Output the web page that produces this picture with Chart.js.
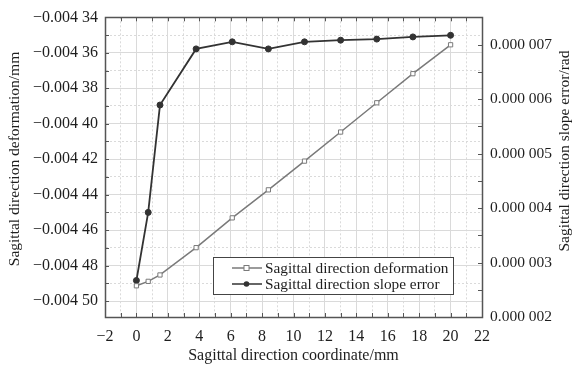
<!DOCTYPE html>
<html>
<head>
<meta charset="utf-8">
<script src="https://cdn.jsdelivr.net/npm/chart.js@4"></script>
<style>
    html, body { margin: 0; padding: 0; background: #fff; }
    #wrap { width: 577px; height: 367px; }
</style>
</head>
<body>
<div id="wrap"><canvas id="chart"></canvas></div>
<script>
// data
const coordinates = [0, 0.75, 1.5, 3.8, 6.1, 8.4, 10.7, 13.0, 15.3, 17.6, 20];
const deformation = [-0.0044914, -0.0044889, -0.0044853, -0.0044699, -0.0044531, -0.0044373,
    -0.0044211, -0.0044047, -0.0043882, -0.0043718, -0.0043555];
const slopeError = [0.00000267, 0.00000392, 0.00000589, 0.00000692, 0.00000705, 0.00000692,
    0.00000705, 0.00000708, 0.0000071, 0.00000714, 0.00000717];

const xTicks = [-2, 0, 2, 4, 6, 8, 10, 12, 14, 16, 18, 20, 22];
const leftTicks = [-0.00434, -0.00436, -0.00438, -0.0044, -0.00442, -0.00444, -0.00446, -0.00448, -0.0045];
const rightTicks = [0.000002, 0.000003, 0.000004, 0.000005, 0.000006, 0.000007];

const seriesNames = ["Sagittal direction deformation", "Sagittal direction slope error"];
const leftTitle = "Sagittal direction deformation/mm";
const rightTitle = "Sagittal direction slope error/rad";

const FONT = "'Liberation Serif', 'Times New Roman', serif";
const GRID = "#dadada";
const AXIS = "#555";
const TEXT = "#1e1e1e";

// majors plus a minor tick halfway between them
function withMinors(list, extraEnd) {
    const out = [];
    const sorted = list.slice().sort((a, b) => a - b);
    for (let i = 0; i < sorted.length; i++) {
        out.push({ value: sorted[i], major: true });
        if (i < sorted.length - 1) out.push({ value: (sorted[i] + sorted[i + 1]) / 2, major: false });
    }
    if (extraEnd) out.push({ value: sorted[sorted.length - 1] + (sorted[1] - sorted[0]) / 2, major: false });
    return out;
}

function fmtLeft(v) {
    const s = Math.abs(v).toFixed(5);
    return "\u2212" + s.slice(0, 5) + " " + s.slice(5);
}
function fmtRight(v) {
    const s = v.toFixed(6);
    return s.slice(0, 5) + " " + s.slice(5);
}
function fmtX(v) {
    return v < 0 ? "\u2212" + Math.abs(v) : String(v);
}

const dashFn = c => (c.tick && c.tick.major === false) ? [2, 2] : [];

function vText(ctx, text, x, y) {
    ctx.save();
    ctx.translate(x, y);
    ctx.rotate(-Math.PI / 2);
    ctx.textAlign = "center";
    ctx.textBaseline = "middle";
    ctx.fillStyle = TEXT;
    ctx.font = "15.5px " + FONT;
    ctx.fillText(text, 0, 0);
    ctx.restore();
}

// inward tick marks, box outline, axis titles, legend
const decor = {
    id: "decor",
    afterDatasetsDraw(chart) {
        const { ctx, chartArea: a, scales } = chart;
        ctx.save();
        ctx.strokeStyle = AXIS;
        ctx.lineWidth = 1;
        ctx.beginPath();
        scales.x.ticks.forEach(t => {
            const px = Math.round(scales.x.getPixelForValue(t.value)) + 0.5;
            ctx.moveTo(px, a.bottom); ctx.lineTo(px, a.bottom - 4);
            ctx.moveTo(px, a.top); ctx.lineTo(px, a.top + 4);
        });
        scales.y.ticks.forEach(t => {
            const py = Math.round(scales.y.getPixelForValue(t.value)) + 0.5;
            ctx.moveTo(a.left, py); ctx.lineTo(a.left + 4, py);
        });
        scales.y2.ticks.forEach(t => {
            const py = Math.round(scales.y2.getPixelForValue(t.value)) + 0.5;
            ctx.moveTo(a.right, py); ctx.lineTo(a.right - 4, py);
        });
        ctx.stroke();
        ctx.lineWidth = 1.5;
        ctx.strokeRect(Math.round(a.left) + 0.5, Math.round(a.top) + 0.5,
            Math.round(a.right - a.left), Math.round(a.bottom - a.top));

        // legend box
        const lx = 213, ly = 257, lw = 240, lh = 37;
        ctx.fillStyle = "#fff";
        ctx.fillRect(lx, ly, lw, lh);
        ctx.lineWidth = 1;
        ctx.strokeStyle = "#444";
        ctx.strokeRect(lx + 0.5, ly + 0.5, lw, lh);
        ctx.font = "15.3px " + FONT;
        ctx.textBaseline = "middle";
        chart.data.datasets.forEach((ds, i) => {
            const yy = ly + 11 + i * 16;
            ctx.strokeStyle = ds.borderColor;
            ctx.lineWidth = 1.5;
            ctx.beginPath();
            ctx.moveTo(232, yy); ctx.lineTo(262, yy);
            ctx.stroke();
            if (ds.pointStyle === "rect") {
                ctx.fillStyle = "#fff";
                ctx.lineWidth = 1;
                ctx.fillRect(244, yy - 2.5, 5, 5);
                ctx.strokeRect(244, yy - 2.5, 5, 5);
            } else {
                ctx.fillStyle = ds.pointBackgroundColor;
                ctx.beginPath();
                ctx.arc(246.5, yy, 2.8, 0, Math.PI * 2);
                ctx.fill();
            }
            ctx.fillStyle = TEXT;
            ctx.textAlign = "left";
            ctx.fillText(ds.label, 265, yy + 1);
        });
        ctx.restore();

        // both side titles read bottom to top
        vText(ctx, leftTitle, 15, 159);
        vText(ctx, rightTitle, 565, 151);
    }
};

new Chart(document.getElementById("chart"), {
    type: "line",
    data: {
        datasets: [{
            label: seriesNames[0],
            data: coordinates.map((x, i) => ({ x: x, y: deformation[i] })),
            yAxisID: "y",
            borderColor: "#7a7a7a",
            borderWidth: 1.5,
            pointStyle: "rect",
            pointRadius: 3,
            pointBackgroundColor: "#fff",
            pointBorderColor: "#7a7a7a",
            pointBorderWidth: 1
        }, {
            label: seriesNames[1],
            data: coordinates.map((x, i) => ({ x: x, y: slopeError[i] })),
            yAxisID: "y2",
            borderColor: "#333",
            borderWidth: 1.8,
            pointStyle: "circle",
            pointRadius: 3,
            pointBackgroundColor: "#333",
            pointBorderColor: "#333",
            pointBorderWidth: 1
        }]
    },
    options: {
        responsive: true,
        maintainAspectRatio: false,
        animation: false,
        layout: { padding: { top: 14, left: 0, right: 0, bottom: 0 } },
        plugins: { legend: { display: false }, tooltip: { enabled: false } },
        scales: {
            x: {
                type: "linear",
                min: -2,
                max: 22,
                afterBuildTicks: s => { s.ticks = withMinors(xTicks); },
                afterFit: s => { s.height = 50; },
                ticks: {
                    autoSkip: false,
                    maxRotation: 0,
                    padding: 10,
                    color: TEXT,
                    font: { family: FONT, size: 16 },
                    callback: v => xTicks.includes(v) ? fmtX(v) : ""
                },
                grid: { color: GRID, drawTicks: false },
                border: { color: AXIS, dash: dashFn },
                title: {
                    display: true,
                    text: "Sagittal direction coordinate/mm",
                    color: TEXT,
                    font: { family: FONT, size: 16 },
                    padding: { top: 0, bottom: 2 }
                }
            },
            y: {
                position: "left",
                min: -0.004509,
                max: -0.00434,
                afterBuildTicks: s => { s.ticks = withMinors(leftTicks); },
                afterFit: s => { s.width = 105; },
                ticks: {
                    autoSkip: false,
                    padding: 7,
                    color: TEXT,
                    font: { family: FONT, size: 16 },
                    callback: (v, i, t) => t[i].major ? fmtLeft(v) : ""
                },
                grid: { color: GRID, drawTicks: false },
                border: { color: AXIS, dash: dashFn }
            },
            y2: {
                position: "right",
                min: 0.000002,
                max: 0.0000075,
                afterBuildTicks: s => { s.ticks = withMinors(rightTicks, true); },
                afterFit: s => { s.width = 95; },
                ticks: {
                    autoSkip: false,
                    padding: 8,
                    color: TEXT,
                    font: { family: FONT, size: 15.5 },
                    callback: (v, i, t) => t[i].major ? fmtRight(v) : ""
                },
                grid: { drawOnChartArea: false, drawTicks: false },
                border: { color: AXIS }
            }
        }
    },
    plugins: [decor]
});
</script>
</body>
</html>
